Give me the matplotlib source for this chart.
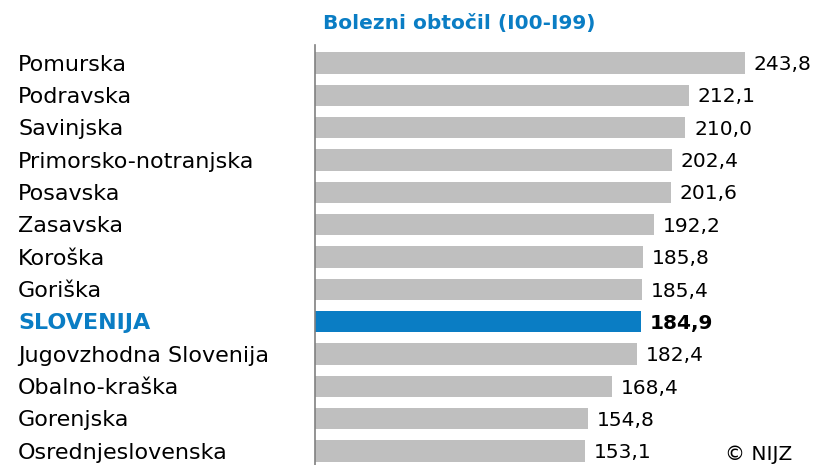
import matplotlib
matplotlib.use('Agg')
import matplotlib.pyplot as plt

regions = ['Pomurska', 'Podravska', 'Savinjska', 'Primorsko-notranjska', 'Posavska',
           'Zasavska', 'Koroška', 'Goriška', 'SLOVENIJA', 'Jugovzhodna Slovenija',
           'Obalno-kraška', 'Gorenjska', 'Osrednjeslovenska']
values = [243.8, 212.1, 210.0, 202.4, 201.6, 192.2, 185.8, 185.4, 184.9, 182.4,
          168.4, 154.8, 153.1]
value_labels = ['243,8', '212,1', '210,0', '202,4', '201,6', '192,2', '185,8', '185,4',
                '184,9', '182,4', '168,4', '154,8', '153,1']
title = 'Bolezni obtočil (I00-I99)'
highlight = 'SLOVENIJA'

plt.rcParams['font.family'] = ['DejaVu Sans']

grey = '#bfbfbf'
blue = '#0a7dc4'

W, H = 814, 465
fig = plt.figure(figsize=(W / 100, H / 100), dpi=100)
ax = fig.add_axes([315 / W, 0, 1 - 315 / W, 1 - 45 / H])

ypos = list(range(len(regions)))
colors = [blue if r == highlight else grey for r in regions]
ax.barh(ypos, values, height=0.66, color=colors, edgecolor='none')

ax.set_xlim(0, (W - 315) / 1.764)
ax.set_ylim(12.43, -0.557)
for s in ['top', 'right', 'bottom']:
    ax.spines[s].set_visible(False)
ax.spines['left'].set_color('#808080')
ax.spines['left'].set_linewidth(1.2)
ax.set_xticks([])
ax.set_yticks([])

for y, r, v, lab in zip(ypos, regions, values, value_labels):
    hl = r == highlight
    ax.text(v + 5, y + 0.05, lab, va='center', ha='left', fontsize=14.5,
            fontweight='bold' if hl else 'normal', color='black')
    ax.annotate(r, xy=(18 / W, 0), xycoords=('figure fraction', 'data'),
                xytext=(0, y + 0.05), textcoords=('offset points', 'data'),
                va='center', ha='left', fontsize=16,
                fontweight='bold' if hl else 'normal',
                color=blue if hl else 'black')

fig.text(459 / W, 1 - 23 / H, title, ha='center', va='center', fontsize=14.5,
         fontweight='bold', color=blue)
fig.text(792 / W, 1 - 454 / H, '© NIJZ', ha='right', va='center', fontsize=14.5,
         color='black')

fig.savefig('out.png', dpi=100)
